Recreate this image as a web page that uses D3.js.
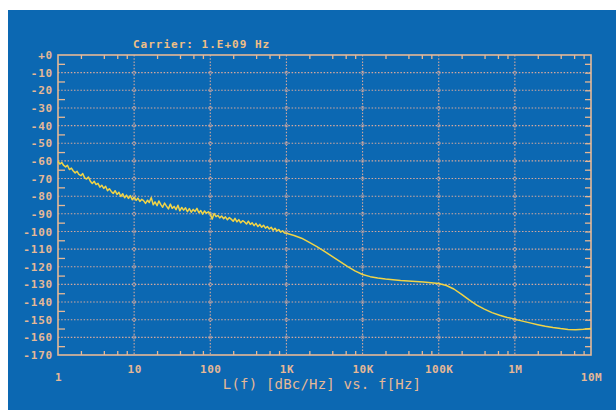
<!DOCTYPE html>
<html>
<head>
<meta charset="utf-8">
<script src="https://cdn.jsdelivr.net/npm/d3@7"></script>
<style>
  html, body { margin: 0; padding: 0; background: #ffffff; }
  svg { display: block; }
  text { font-family: "DejaVu Sans Mono", "Liberation Mono", monospace; }
</style>
</head>
<body>
<svg id="chart" width="616" height="410"></svg>
<script>
// ---------- data ----------
const title = "Carrier: 1.E+09 Hz";
const axisTitle = "L(f) [dBc/Hz] vs. f[Hz]";
const freqs = [
  1, 1.06, 1.12, 1.19, 1.26, 1.33, 1.41, 1.5, 1.58, 1.68, 1.78, 1.88, 2, 2.11, 2.24, 2.37, 2.51, 2.66, 2.82, 2.99,
  3.16, 3.35, 3.55, 3.76, 3.98, 4.22, 4.47, 4.73, 5.01, 5.31, 5.62, 5.96, 6.31, 6.68, 7.08, 7.5, 7.94, 8.41, 8.91, 9.44,
  10, 10.6, 11.2, 11.9, 12.6, 13.3, 14.1, 15, 15.8, 16.8, 17.8, 18.8, 20, 21.1, 22.4, 23.7, 25.1, 26.6, 28.2, 29.9,
  31.6, 33.5, 35.5, 37.6, 39.8, 42.2, 44.7, 47.3, 50.1, 53.1, 56.2, 59.6, 63.1, 66.8, 70.8, 75, 79.4, 84.1, 89.1, 94.4,
  100, 106, 112, 119, 126, 133, 141, 150, 158, 168, 178, 188, 200, 211, 224, 237, 251, 266, 282, 299,
  316, 335, 355, 376, 398, 422, 447, 473, 501, 531, 562, 596, 631, 668, 708, 750, 794, 841, 891, 944,
  1000, 1260, 1580, 2000, 2510, 3160, 3980, 5010, 6310, 7940,
  10000, 12600, 15800, 20000, 25100, 31600, 39800, 50100, 63100, 79400,
  100000, 126000, 158000, 200000, 251000, 316000, 398000, 501000, 631000, 794000,
  1000000, 1260000, 1580000, 2000000, 2510000, 3160000, 3980000, 5010000, 6310000, 7940000, 10000000
];
const phaseNoise = [
  -60.3, -61.8, -60.9, -62.6, -63.4, -62.5, -64.9, -64.1, -65.6, -66.8, -65.9, -67.7, -68.4, -67.2, -69.6, -70.3, -69.1, -71.5, -72.8, -71.6,
  -73.4, -72.7, -74.9, -73.8, -75.6, -74.4, -76.9, -75.8, -77.3, -78.5, -76.9, -79.0, -77.8, -80.2, -78.6, -80.9, -79.4, -81.3, -79.7, -82.0,
  -80.6, -82.4, -81.1, -83.0, -81.8, -82.5, -84.1, -82.3, -83.6, -80.8, -84.9, -83.2, -85.4, -82.7, -84.8, -86.3, -83.9, -85.6, -87.2, -84.5,
  -86.9, -85.8, -87.6, -85.1, -88.3, -86.4, -87.9, -86.6, -88.8, -87.0, -89.1, -87.5, -88.6, -86.9, -89.4, -88.1, -90.2, -88.4, -89.7, -88.8,
  -90.1, -93.0, -89.8, -91.6, -90.9, -92.3, -91.2, -92.8, -91.7, -93.4, -92.1, -93.0, -94.2, -92.6, -94.5, -93.3, -95.1, -93.9, -94.6, -95.8,
  -94.2, -96.0, -95.1, -96.7, -95.4, -97.2, -96.0, -97.6, -96.5, -98.1, -97.2, -98.6, -97.6, -99.3, -98.2, -99.7, -98.9, -100.4, -99.6, -100.9,
  -101.0, -102.3, -103.8, -106.2, -108.6, -111.3, -114.1, -117.0, -119.8, -122.3,
  -124.4, -125.6, -126.4, -127.0, -127.4, -127.8, -128.1, -128.4, -128.7, -129.0,
  -129.5, -130.6, -132.6, -135.6, -138.8, -141.7, -144.0, -146.0, -147.5, -148.7,
  -149.7, -150.8, -151.8, -152.8, -153.7, -154.4, -155.0, -155.5, -155.7, -155.4, -155.0
];
const xTickValues = [1, 10, 100, 1000, 10000, 100000, 1000000, 10000000];
const xTickLabels = ["1", "10", "100", "1K", "10K", "100K", "1M", "10M"];
const yTickValues = [0, -10, -20, -30, -40, -50, -60, -70, -80, -90, -100, -110, -120, -130, -140, -150, -160, -170];
const yTickLabels = ["+0", "-10", "-20", "-30", "-40", "-50", "-60", "-70", "-80", "-90", "-100", "-110", "-120", "-130", "-140", "-150", "-160", "-170"];

// ---------- styles ----------
const BG = "#0c68b2";
const FG = "#e6b896";
const GRID = "#d4a89e";
const CURVE = "#f1d447";

const svg = d3.select("#chart");
svg.append("rect").attr("x", 8).attr("y", 10).attr("width", 608).attr("height", 400).attr("fill", BG);

const L = 58, R = 591, T = 55, B = 355;
const x = d3.scaleLog().domain([1, 1e7]).range([L, R]);
const y = d3.scaleLinear().domain([-170, 0]).range([B, T]);

// minor tick values
const minorX = [];
for (let d = 0; d < 7; d++) [2, 4, 6, 8].forEach(m => minorX.push(m * Math.pow(10, d)));
const minorY = d3.range(-5, -170, -10);
const allFive = d3.range(-5, -170, -5);

// grid
const g = svg.append("g");
g.selectAll("line.hg").data(yTickValues.filter(v => v < 0 && v > -170)).join("line")
  .attr("x1", L).attr("x2", R).attr("y1", d => y(d)).attr("y2", d => y(d))
  .attr("stroke", GRID).attr("stroke-width", 1.1).attr("stroke-dasharray", "1.5,1.7");
g.selectAll("line.vg").data(xTickValues.slice(1, -1)).join("line")
  .attr("x1", d => x(d)).attr("x2", d => x(d)).attr("y1", T).attr("y2", B)
  .attr("stroke", GRID).attr("stroke-width", 1.1).attr("stroke-dasharray", "1.5,1.7");

// intersection markers
const inter = [];
xTickValues.slice(1, -1).forEach(fx => yTickValues.filter(v => v < 0 && v > -170).forEach(vy => inter.push([fx, vy])));
g.selectAll("circle.ix").data(inter).join("circle")
  .attr("cx", d => x(d[0])).attr("cy", d => y(d[1])).attr("r", 1.6)
  .attr("fill", "none").attr("stroke", GRID).attr("stroke-width", 0.8).attr("opacity", 0.8);

// minor ticks via axes
const tickStyle = sel => {
  sel.select(".domain").remove();
  sel.selectAll("line").attr("stroke", FG).attr("stroke-width", 1.3);
  sel.selectAll("text").remove();
};
svg.append("g").attr("transform", `translate(0,${T})`)
  .call(d3.axisBottom(x).tickValues(minorX).tickSize(4)).call(tickStyle);
svg.append("g").attr("transform", `translate(0,${B})`)
  .call(d3.axisTop(x).tickValues(minorX).tickSize(4)).call(tickStyle);
svg.append("g").attr("transform", `translate(${L},0)`)
  .call(d3.axisRight(y).tickValues(minorY).tickSize(7)).call(tickStyle);
svg.append("g").attr("transform", `translate(${R},0)`)
  .call(d3.axisLeft(y).tickValues(allFive).tickSize(6)).call(tickStyle);

// frame
svg.append("rect").attr("x", L).attr("y", T).attr("width", R - L).attr("height", B - T)
  .attr("fill", "none").attr("stroke", FG).attr("stroke-width", 1.6);

// curve
const pts = freqs.map((f, i) => [f, phaseNoise[i]]);
const line = d3.line().x(d => x(d[0])).y(d => y(d[1])).curve(d3.curveLinear);
svg.append("path").datum(pts).attr("d", line)
  .attr("fill", "none").attr("stroke", CURVE).attr("stroke-width", 1.5).attr("stroke-linejoin", "round");

// y labels
const yAx = svg.append("g").attr("transform", `translate(${L - 5},0)`)
  .call(d3.axisLeft(y).tickValues(yTickValues).tickSize(0).tickFormat((d, i) => yTickLabels[i]));
yAx.select(".domain").remove();
yAx.selectAll("text").attr("fill", FG).attr("font-size", 11).attr("font-weight", "bold")
  .attr("letter-spacing", 0.8).attr("x", 0)
  .style("font-family", "'DejaVu Sans Mono', monospace");

// x labels
const xAx = svg.append("g").attr("transform", `translate(0,${B + 6})`)
  .call(d3.axisBottom(x).tickValues(xTickValues).tickSize(0).tickFormat((d, i) => xTickLabels[i]));
xAx.select(".domain").remove();
xAx.selectAll("text").attr("fill", FG).attr("font-size", 11).attr("font-weight", "bold")
  .attr("letter-spacing", 0.5)
  .attr("y", (d, i) => (i === 0 || i === xTickLabels.length - 1) ? 12 : 4)
  .style("font-family", "'DejaVu Sans Mono', monospace");

// titles
svg.append("text").attr("x", 133).attr("y", 48).attr("fill", "#efbf86")
  .attr("font-size", 11).attr("font-weight", "bold").attr("letter-spacing", 1)
  .text(title);
svg.append("text").attr("x", 322).attr("y", 389).attr("text-anchor", "middle").attr("fill", FG)
  .attr("font-size", 14).attr("letter-spacing", 0.2)
  .text(axisTitle);
</script>
</body>
</html>
